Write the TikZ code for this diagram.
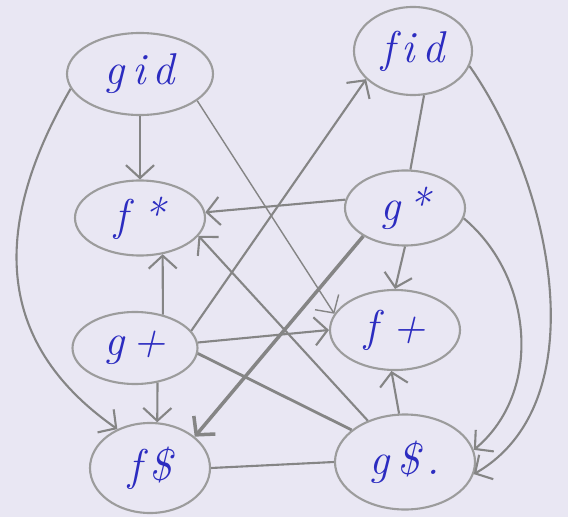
\documentclass[tikz,border=0pt]{standalone}
\usepackage{xcolor}
\definecolor{pencil}{HTML}{858585}
\definecolor{pencillight}{HTML}{9c9c9c}
\definecolor{ink}{HTML}{2c2cc0}
\definecolor{paper}{HTML}{e9e7f3}
\usepackage{tikz}
\usetikzlibrary{
  arrows.meta,
  shapes.geometric
}

\begin{document}
\begin{tikzpicture}[
  x=0.03cm, y=-0.03cm,
  morph/.style={ellipse, draw=pencillight, line width=1.8pt, inner sep=0pt, text=ink, font=\fontsize{38}{38}\selectfont\itshape},
  arr/.style={-{Straight Barb[length=11pt, width=24pt]}, line width=1.8pt, pencil},
  lin/.style={line width=1.8pt, pencil},
]
\useasboundingbox (0,0) rectangle (568,517);
\fill[paper] (0,0) rectangle (568,517);

% Nodos
\node[morph, minimum width=4.38cm, minimum height=2.46cm] (gid) at (140,74) {g\,i\,d};
\node[morph, minimum width=3.54cm, minimum height=2.64cm] (fid) at (413,51) {f\,i\,d};
\node[morph, minimum width=3.9cm, minimum height=2.25cm] (fstar) at (140,218) {f\,\,*};
\node[morph, minimum width=3.6cm, minimum height=2.25cm] (gstar) at (405,208) {g\,*};
\node[morph, minimum width=3.75cm, minimum height=2.16cm] (gplus) at (135,348) {g\,+};
\node[morph, minimum width=3.9cm, minimum height=2.4cm] (fplus) at (395,330) {f\,\,+};
\node[morph, minimum width=3.6cm, minimum height=2.7cm] (fdol) at (150,468) {f\,\$};
\node[morph, minimum width=4.2cm, minimum height=2.85cm] (gdol) at (405,462) {g\,\$\,.};

% Flechas desde gid y fid
\draw[arr] (gid.south) -- (fstar.north);
\draw[arr] (gid.192) to[out=240, in=145, looseness=1.15] (fdol.130);
\draw[arr, line width=1.2pt] (gid.-25) -- (fplus.165);
\draw[lin] (fid.-76) -- (gstar.82);
\draw[arr] (fid.-15) to[out=-55, in=30, looseness=0.9] (gdol.-10);

% Flechas desde g*
\draw[arr] (gstar.172) -- (fstar.5);
\draw[arr, line width=3pt] (gstar.214) -- (fdol.35);
\draw[arr] (gstar.south) -- (fplus.north);
\draw[arr] (gstar.-10) to[out=-40, in=40] (gdol.10);

% Flechas desde g+
\draw[arr] (gplus.50) -- (fstar.-58);
\draw[arr] (gplus.17) -- (fid.211);
\draw[arr] (gplus.5) -- (fplus.180);
\draw[arr] (gplus.-57) -- (fdol.81);
\draw[lin, line width=2.4pt] (gplus.-5) -- (gdol.149);

% Flechas desde g$
\draw[arr] (gdol.132) -- (fstar.-17);
\draw[arr] (gdol.97) -- (fplus.-95);
\draw[lin] (gdol.west) -- (fdol.east);

\end{tikzpicture}
\end{document}
